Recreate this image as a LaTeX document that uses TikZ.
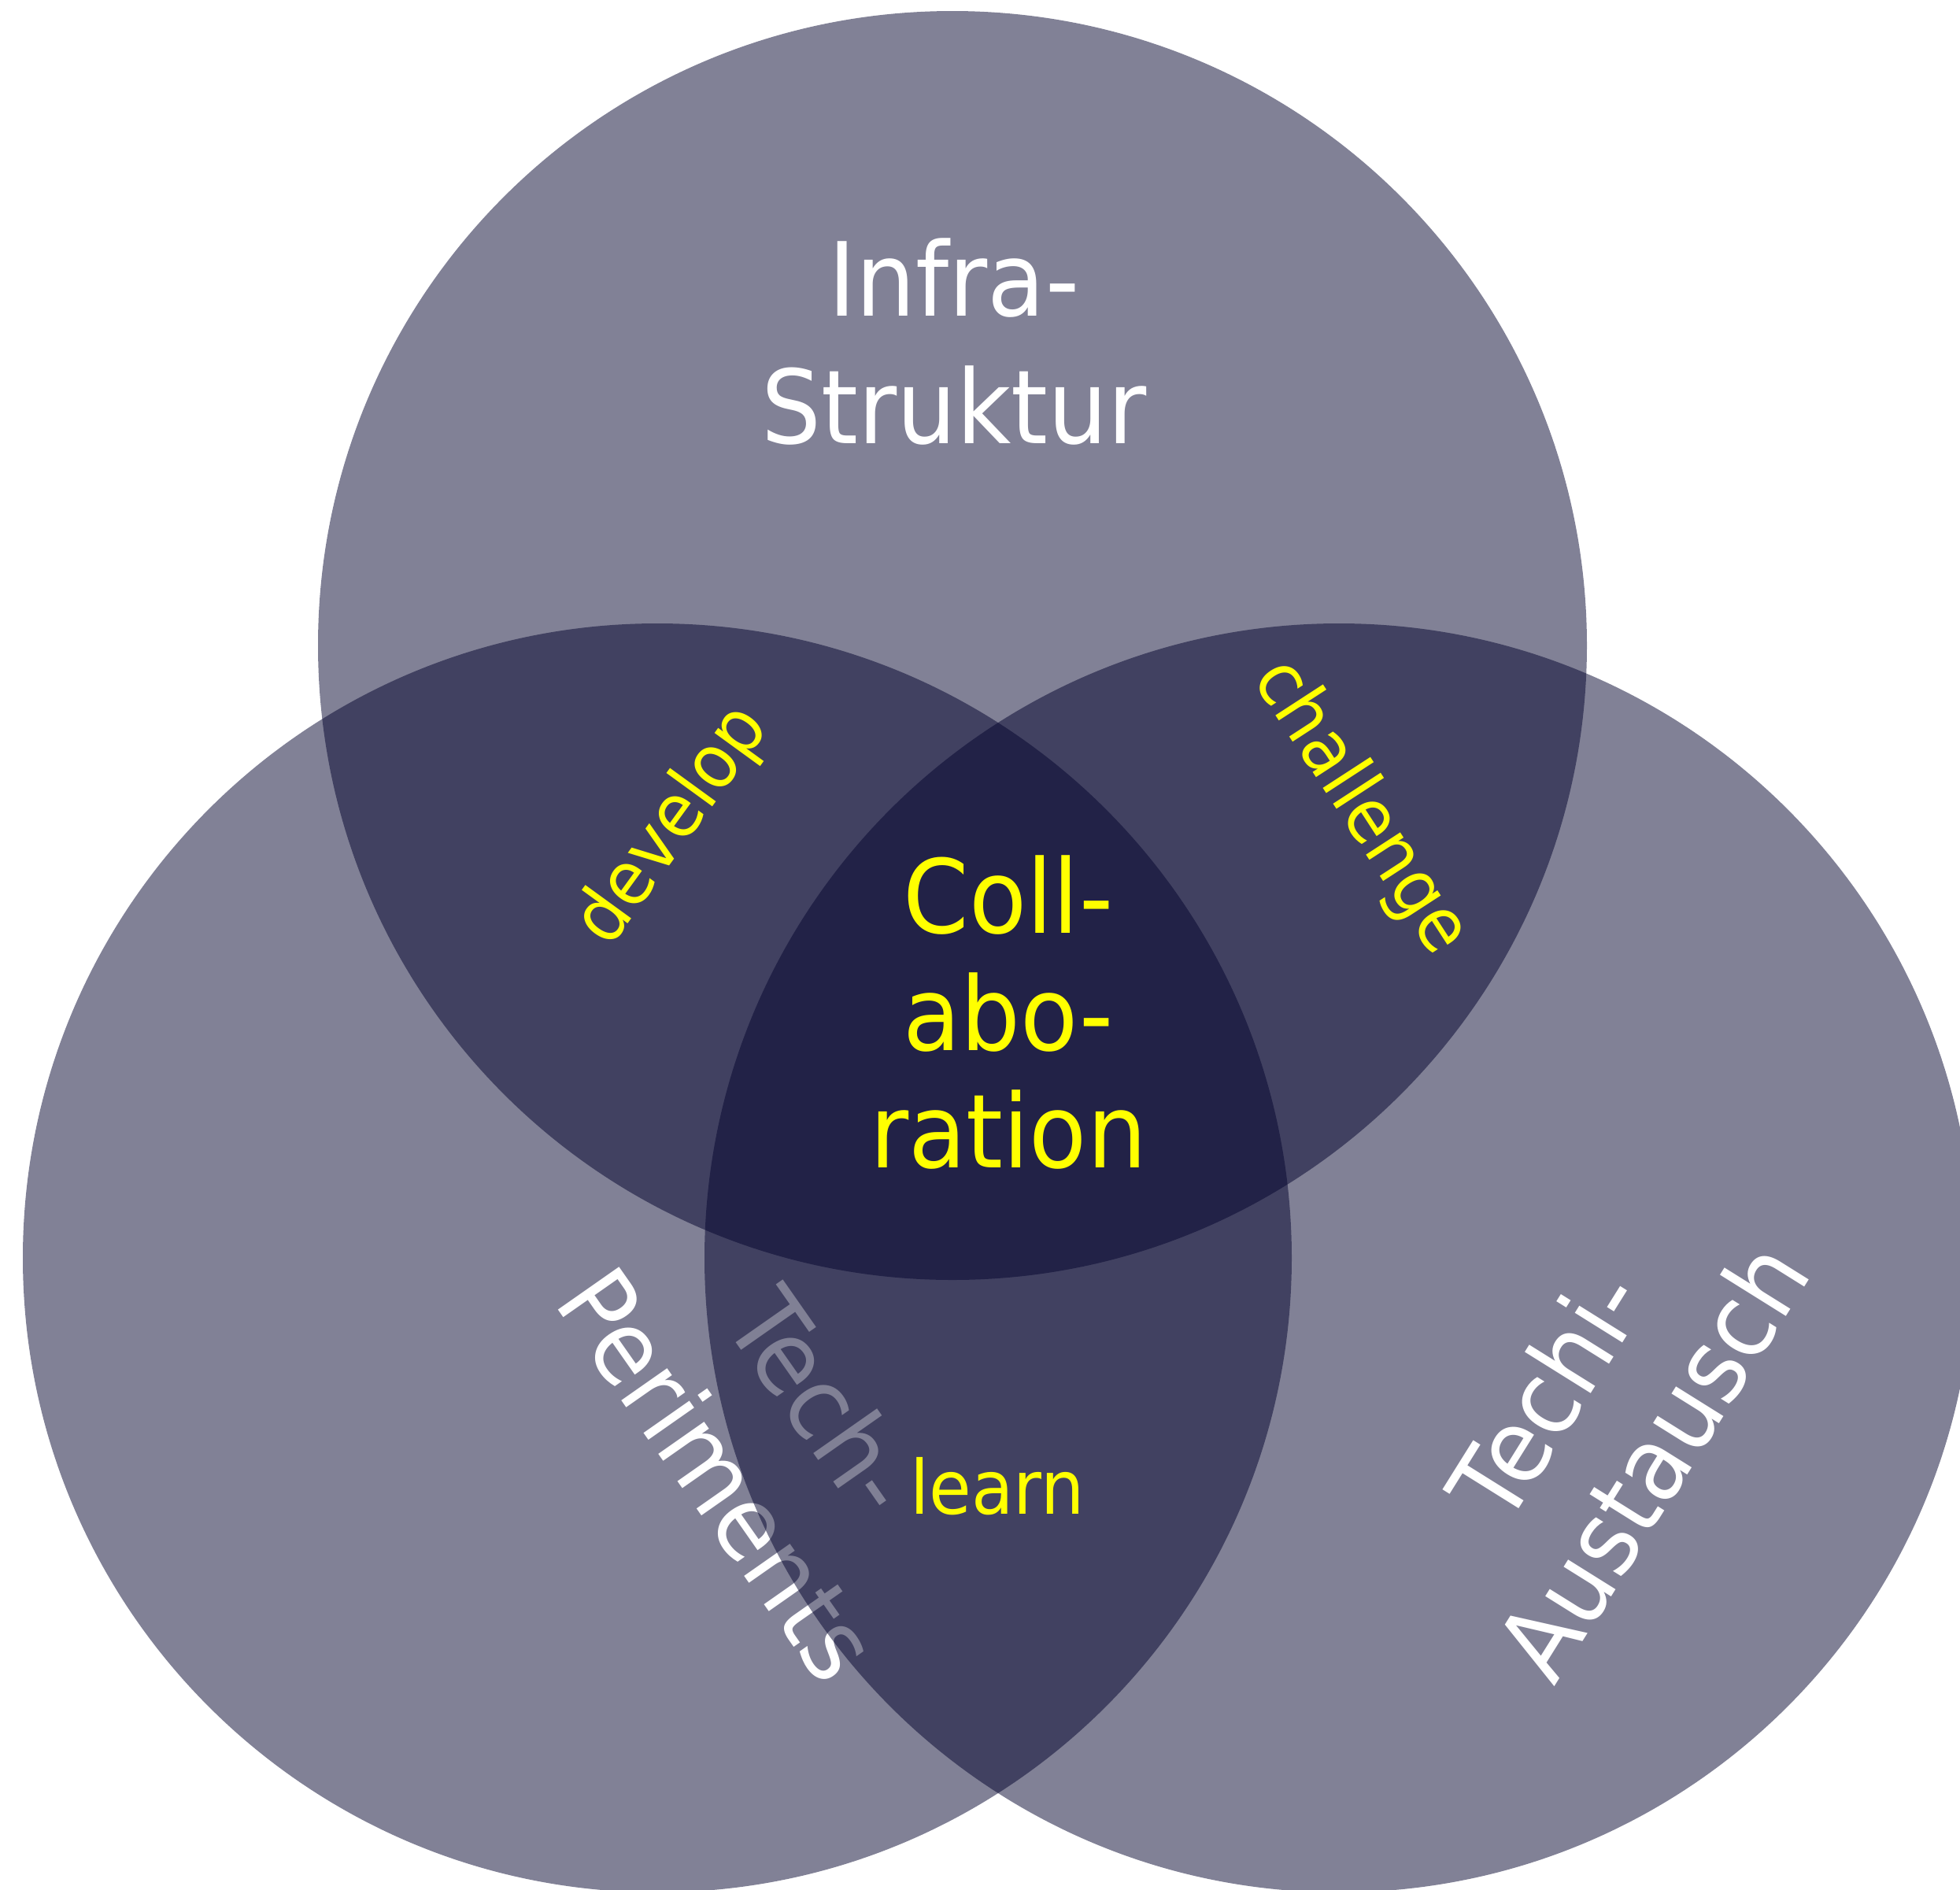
\documentclass[tikz,border=0pt]{standalone}
\usepackage{fontspec}
\newfontfamily\vennfont{DejaVu Sans}[FakeStretch=0.92]
\definecolor{venndark}{RGB}{3,3,45}
\definecolor{labelyellow}{RGB}{255,255,0}
\usepackage{tikz}
\usetikzlibrary{positioning}

\begin{document}
\begin{tikzpicture}[
  vennset/.style={circle, fill=venndark, fill opacity=0.5, draw=none, minimum size=16.12cm, inner sep=0pt, outer sep=0pt},
  biglabel/.style={font=\vennfont\fontsize{37}{46}\selectfont, text=white, align=center, inner sep=0pt},
  smalllabel/.style={font=\vennfont\fontsize{27}{32}\selectfont, text=labelyellow, inner sep=0pt}
]
  \useasboundingbox (0,0) rectangle (24.90,-24.01);
  \clip (0,0) rectangle (24.90,-24.01);

  \node[vennset] (infra) at (12.10,-8.20) {};
  \node[vennset] (experiments) at (8.35,-15.98) {};
  \node[biglabel, rotate=-55, font=\vennfont\fontsize{37}{46}\selectfont] (techexp) at (9.80,-18.26) {Tech-\\Periments};
  \node[vennset] (exchange) at (17.01,-15.98) {};

  \node[biglabel] (infratext) at (12.12,-4.34) {Infra-\\Struktur};
  \node[biglabel, rotate=58, font=\vennfont\fontsize{37}{45}\selectfont] (exchtext) at (20.31,-18.13) {Techi-\\Austausch};
  \node[biglabel, text=labelyellow, font=\vennfont\fontsize{37}{42.4}\selectfont] (collab) at (12.81,-12.86) {Coll-\\abo-\\ration};
  \node[smalllabel, rotate=54] (develop) at (8.55,-10.49) {develop};
  \node[smalllabel, rotate=-57] (challenge) at (17.28,-10.26) {challenge};
  \node[smalllabel] (learn) at (12.67,-18.88) {learn};
\end{tikzpicture}
\end{document}
